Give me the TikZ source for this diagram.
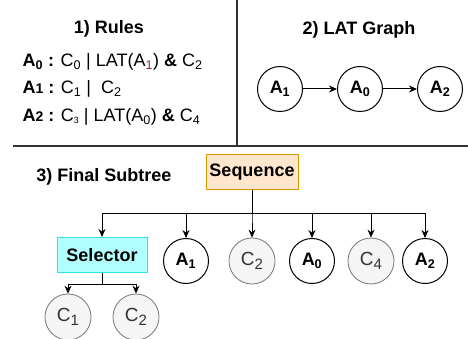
\documentclass[tikz,border=0pt]{standalone}
\usepackage{fontspec}
\setmainfont{Liberation Sans}
\usetikzlibrary{arrows.meta}
\definecolor{seqfill}{HTML}{FFE6CC}
\definecolor{seqline}{HTML}{D79B00}
\definecolor{selfill}{HTML}{B2FFFF}
\definecolor{selline}{HTML}{33E6E6}
\definecolor{condfill}{HTML}{F5F5F5}
\definecolor{condline}{HTML}{777777}
\definecolor{condtext}{HTML}{333333}
\definecolor{subred}{HTML}{8A2B2B}
\newcommand{\sub}[1]{\textsubscript{#1}}
% larger, lower index for the condition circles
\newcommand{\csub}[1]{\raisebox{-0.45ex}{\fontsize{15}{15}\selectfont #1}}
\tikzset{node distance=80pt, auto, >={Stealth[length=8pt,width=7pt]},
  big/.style={font=\fontsize{18}{21}\selectfont},
  head/.style={font=\fontsize{18}{21}\selectfont\bfseries},
  agent/.style={circle, draw, line width=1pt, minimum size=45pt, inner sep=0pt,
    font=\fontsize{18}{21}\selectfont\bfseries},
  cond/.style={circle, draw=condline, fill=condfill, line width=0.8pt, minimum size=46pt,
    inner sep=0pt, text=condtext, font=\fontsize{19}{21}\selectfont},
  seqbox/.style={draw=seqline, fill=seqfill, line width=1pt, minimum width=92pt,
    minimum height=34pt, font=\fontsize{18}{21}\selectfont\bfseries},
  selbox/.style={draw=selline, fill=selfill, line width=1pt, minimum width=90pt,
    minimum height=35pt, font=\fontsize{18}{21}\selectfont\bfseries},
  edge/.style={->, line width=1pt},
  divider/.style={draw=black!80, line width=1.2pt}}

\begin{document}
\begin{tikzpicture}[x=1pt,y=-1pt]
  \useasboundingbox (0,0) rectangle (468,339);

  % panel borders
  \draw[divider] (237,0) -- (237,145);
  \draw[divider] (13,146) -- (468,146);

  % 1) rules
  \node[head] (rules) at (109,29) {1) Rules};
  \node[big, anchor=west] (rule0) at (19,62)
    {\textbf{A\sub{0} :} C\sub{0} | LAT(A\sub{\color{subred}1}) \textbf{\&} C\sub{2}};
  \node[big, anchor=west] (rule1) at (19,89)
    {\textbf{A{\fontsize{14}{14}\selectfont 1} :} C\sub{1} |~ C\sub{2}};
  \node[big, anchor=west] (rule2) at (19,117)
    {\textbf{A{\fontsize{14}{14}\selectfont 2} :} C{\fontsize{9}{9}\selectfont\raisebox{-1.5pt}{3}} | LAT(A\sub{0}) \textbf{\&} C\sub{4}};

  % 2) LAT graph
  \node[head] (lat) at (359,30) {2) LAT Graph};
  \node[agent] (g1) at (280,89) {A\sub{1}};
  \node[agent] (g0) [right of=g1] {A\sub{0}};
  \node[agent] (g2) [right of=g0] {A\sub{2}};
  \draw[edge] (g1) to (g0);
  \draw[edge] (g0) to (g2);

  % 3) subtree
  \node[head] (tree) at (104,177) {3) Final Subtree};
  \node[seqbox] (seq) at (252,172) {Sequence};
  \node[selbox] (sel) at (102,255) {Selector};
  \node[agent] (t1) at (186,261) {A\sub{1}};
  \node[cond]  (c2) at (252,261) {C\csub{2}};
  \node[agent] (t0) at (312,261) {A\sub{0}};
  \node[cond]  (c4) at (371,261) {C\csub{4}};
  \node[agent] (t2) at (425,261) {A\sub{2}};
  \node[cond]  (s1) at (68,317) {C\csub{1}};
  \node[cond]  (s2) at (136,317) {C\csub{2}};

  \foreach \kid in {sel,t1,c2,t0,c4,t2}
    \draw[edge] (seq.south) -- ++(0,24) -| (\kid.north);
  \foreach \kid in {s1,s2}
    \draw[edge] (sel.south) -- ++(0,11) -| (\kid.north);
\end{tikzpicture}
\end{document}
